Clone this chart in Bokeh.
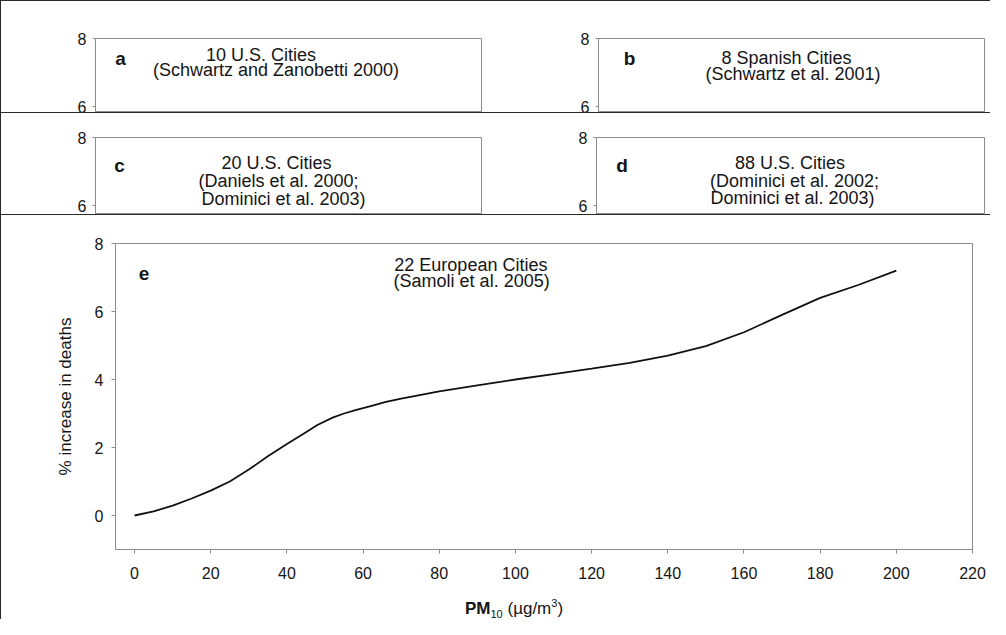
from bokeh.plotting import figure
from bokeh.models import Range1d, FixedTicker, Label, Div
from bokeh.layouts import column, row
from bokeh.embed import file_html
from bokeh.resources import INLINE

# ---- data ----
pm10 = [0, 5, 10, 15, 20, 25, 30, 35, 40, 45, 48, 52, 55, 58, 62, 66, 70, 80, 90,
        100, 110, 120, 130, 140, 150, 160, 170, 180, 190, 200]
pct_increase = [0.0, 0.12, 0.29, 0.50, 0.73, 1.00, 1.35, 1.74, 2.10, 2.45, 2.66,
                2.88, 3.00, 3.10, 3.22, 3.34, 3.44, 3.65, 3.83, 4.00, 4.16, 4.32,
                4.49, 4.70, 4.98, 5.39, 5.90, 6.40, 6.78, 7.20]
x_ticks = [0, 20, 40, 60, 80, 100, 120, 140, 160, 180, 200, 220]
y_ticks = [0, 2, 4, 6, 8]
panel_letters = ["a", "b", "c", "d", "e"]
panel_titles = [
    ["10 U.S. Cities", "(Schwartz and Zanobetti 2000)"],
    ["8 Spanish Cities", "(Schwartz et al. 2001)"],
    ["20 U.S. Cities", "(Daniels et al. 2000;", "Dominici et al. 2003)"],
    ["88 U.S. Cities", "(Dominici et al. 2002;", "Dominici et al. 2003)"],
    ["22 European Cities", "(Samoli et al. 2005)"],
]
y_title = "% increase in deaths"
x_title_main, x_title_sub, x_title_unit, x_title_sup = "PM", "10", "(\u00b5g/m", "3"

FONT = "Liberation Sans"
FRAME = "#8c8c8c"
INK = "#151515"
SEP = "#2a2a2a"


def style(p, tick_size, standoff):
    p.outline_line_color = FRAME
    p.outline_line_width = 1
    p.xgrid.visible = False
    p.ygrid.visible = False
    p.background_fill_color = "white"
    p.border_fill_color = "white"
    for ax in p.axis:
        ax.axis_line_color = FRAME
        ax.major_tick_line_color = FRAME
        ax.minor_tick_line_color = None
        ax.major_tick_in = 0
        ax.major_tick_out = 4
        ax.major_label_text_font = FONT
        ax.major_label_text_font_size = tick_size
        ax.major_label_text_color = INK
        ax.major_label_standoff = standoff
    p.yaxis.ticker = FixedTicker(ticks=y_ticks)
    p.xaxis.ticker = FixedTicker(ticks=x_ticks)


def label(p, x, y, text, size="18px", bold=False, align="center"):
    p.add_layout(Label(x=x, y=y, text=text, text_font=FONT,
                       text_font_size=size, text_color=INK,
                       text_font_style="bold" if bold else "normal",
                       text_align=align, text_baseline="middle"))


def top_panel(w, h, mbl, mbr, mbt, ybot, idx, letter_pos, line_pos):
    p = figure(width=w, height=h, output_backend="svg", toolbar_location=None,
               x_range=Range1d(-5, 220), y_range=Range1d(ybot, 8),
               min_border_left=mbl, min_border_right=mbr,
               min_border_top=mbt, min_border_bottom=0)
    style(p, "16px", 6)
    p.xaxis.visible = False
    p.yaxis.major_tick_out = 3
    label(p, letter_pos[0], letter_pos[1], panel_letters[idx], size="19px", bold=True)
    for txt, (lx, ly) in zip(panel_titles[idx], line_pos):
        label(p, lx, ly, txt)
    return p


pa = top_panel(494, 111, 94, 14, 37, 8 - 74 / 34, 0,
               (9.6, 7.41), [(91.5, 7.51), (100.2, 7.07)])
pb = top_panel(495, 111, 103, 6, 37, 8 - 74 / 34, 1,
               (13.1, 7.40), [(104.6, 7.44), (108.4, 6.96)])
pc = top_panel(494, 101, 94, 14, 24, 8 - 77 / 34, 2,
               (9.0, 7.19), [(100.5, 7.24), (101.7, 6.71), (104.6, 6.20)])
pd = top_panel(495, 101, 101, 6, 24, 8 - 77 / 34, 3,
               (9.8, 7.18), [(107.2, 7.24), (109.8, 6.71), (108.7, 6.21)])

pe = figure(width=989, height=379, output_backend="svg", toolbar_location=None,
            x_range=Range1d(-5, 220), y_range=Range1d(-1, 8),
            min_border_left=114, min_border_right=18,
            min_border_top=28, min_border_bottom=45)
style(pe, "16px", 8)
pe.xaxis.major_label_standoff = 13
pe.yaxis.axis_label = y_title
pe.yaxis.axis_label_text_font = FONT
pe.yaxis.axis_label_text_font_size = "17px"
pe.yaxis.axis_label_text_font_style = "normal"
pe.yaxis.axis_label_text_color = INK
pe.yaxis.axis_label_standoff = 17
pe.line(pm10, pct_increase, line_color="#111111", line_width=1.8)
label(pe, 2.5, 7.12, panel_letters[4], size="19px", bold=True)
label(pe, 88.3, 7.38, panel_titles[4][0])
label(pe, 88.5, 6.91, panel_titles[4][1])

x_title_html = (
    '<div style="padding-left:464px; padding-top:6px; line-height:17px; '
    "font-family:'Liberation Sans', Arial, sans-serif; font-size:17px; "
    'color:#151515; white-space:nowrap;">'
    f"<b>{x_title_main}</b>"
    f'<span style="font-size:11px; position:relative; top:4px;">{x_title_sub}</span>'
    f" {x_title_unit}"
    f'<span style="font-size:11px; position:relative; top:-7px;">{x_title_sup}</span>)'
    "</div>"
)
x_title_div = Div(text=x_title_html, width=989, height=25, margin=0,
                  styles={"background-color": "white"})


def hline(w):
    return Div(width=w, height=1, margin=0, styles={"background-color": SEP})


def vline(h):
    return Div(width=1, height=h, margin=0, styles={"background-color": SEP})


right = column(
    row(pa, pb, spacing=0),
    hline(989),
    row(pc, pd, spacing=0),
    hline(989),
    pe,
    x_title_div,
    spacing=0,
)
layout = column(hline(990), row(vline(618), right, spacing=0), spacing=0)

open("out.html", "w").write(file_html(layout, INLINE))
